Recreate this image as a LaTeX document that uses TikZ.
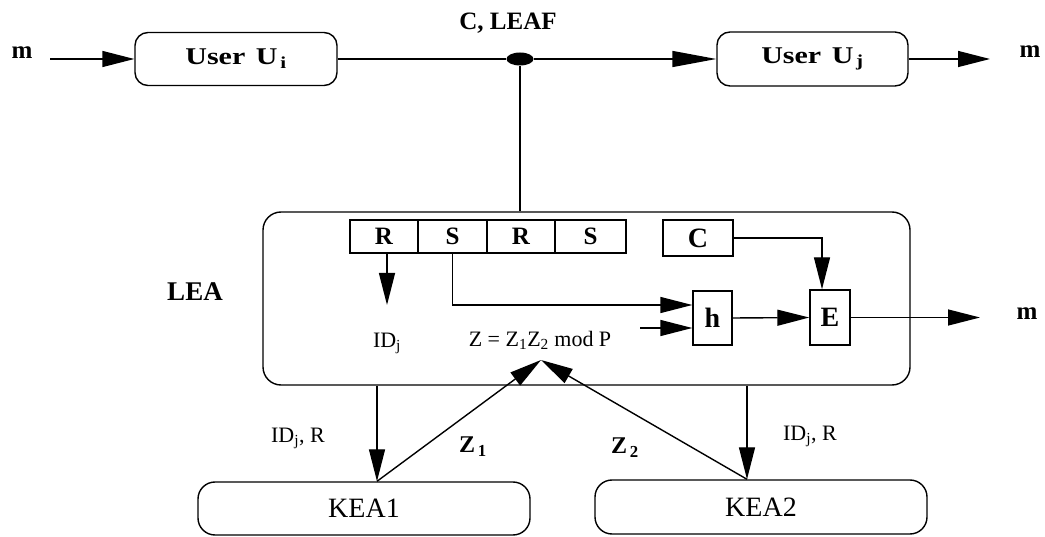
\documentclass[tikz,border=0pt]{standalone}
\usepackage{fontspec}
\setmainfont{Liberation Serif}
\newfontfamily\widefont{Liberation Serif}[FakeStretch=1.25]
\usetikzlibrary{arrows.meta,shapes.geometric}
\begin{document}
\begin{tikzpicture}[x=1pt,y=-1pt,line width=1.4pt,
  arr/.style={-{Triangle[length=32pt,width=16pt]}},
  rbox/.style={draw,rounded corners=13pt,inner sep=0pt},
  sq/.style={draw,inner sep=0pt},
  user/.style={font=\widefont\fontsize{24}{26}\selectfont\bfseries},
  bl/.style={font=\fontsize{25}{27}\selectfont\bfseries},
  blb/.style={font=\fontsize{28}{30}\selectfont\bfseries},
  reg/.style={font=\fontsize{22}{24}\selectfont},
  kea/.style={font=\fontsize{28}{30}\selectfont},
  ]
\useasboundingbox (0,0) rectangle (1045,537);
% top row
\node[bl] (min) at (22,53) {m};
\node[rbox,user,minimum width=202pt,minimum height=53pt] (ui) at (236,59) {User\hspace{3pt} U\textsubscript{\,i}};
\node[fill,ellipse,minimum width=27pt,minimum height=13pt,inner sep=0pt] (dot) at (520,59) {};
\node[bl] (cleaf) at (508,23) {C, LEAF};
\node[rbox,user,minimum width=191pt,minimum height=54pt] (uj) at (812.5,59) {User\hspace{3pt} U\textsubscript{\,j}};
\node[bl] (mout1) at (1030,52) {m};
\coordinate (s1) at (50,59);
\coordinate (t1) at (990,59);
\draw[arr] (s1) -- (ui.west);
\draw (ui.east) -- (dot.west);
\draw[-{Triangle[length=44pt,width=16pt]}] (dot.east) -- (uj.west);
\draw[arr] (uj.east) -- (t1);
% LEA
\node[draw,rounded corners=18pt,minimum width=647pt,minimum height=173pt,inner sep=0pt] (lea) at (586.5,298.5) {};
\node[bl,font=\fontsize{27}{29}\selectfont\bfseries] (lealab) at (195,292) {LEA};
\draw (dot.south) -- (dot.south |- lea.north);
\node[sq,bl,minimum width=68pt,minimum height=33pt] (c1) at (384,236.5) {R};
\node[sq,bl,minimum width=69pt,minimum height=33pt] (c2) at (452.5,236.5) {S};
\node[sq,bl,minimum width=68pt,minimum height=33pt] (c3) at (521,236.5) {R};
\node[sq,bl,minimum width=71pt,minimum height=33pt] (c4) at (590.5,236.5) {S};
\node[sq,blb,minimum width=70pt,minimum height=36pt] (cb) at (698,238) {C};
\node[sq,blb,minimum width=39pt,minimum height=54pt] (h) at (712.5,318) {h};
\node[sq,blb,minimum width=40pt,minimum height=55pt] (e) at (830,317.5) {E};
\node[reg] (idj) at (387,343) {ID\textsubscript{j}};
\node[reg] (zeq) at (540,340) {Z = Z\textsubscript{1}Z\textsubscript{2} mod P};
\node[bl] (mout2) at (1027,314) {m};
\coordinate (a1) at (387,305);
\coordinate (zs) at (640,328);
\coordinate (t2) at (980,317.5);
\coordinate (apex) at (541,360);
\draw[arr] ([xshift=3pt]c1.south) -- (a1);
\draw[arr] (c2.south) |- ([yshift=13pt]h.west);
\draw[arr] (zs) -- (zs -| h.west);
\draw[arr] (cb.east) -| ([xshift=-8pt]e.north);
\draw[arr] (h.east) -- (e.west);
\draw[arr] (e.east) -- (t2);
% KEAs
\node[rbox,kea,rounded corners=17pt,minimum width=332pt,minimum height=53pt] (kea1) at (364,508.5) {KEA1};
\node[rbox,kea,rounded corners=17pt,minimum width=332pt,minimum height=54pt] (kea2) at (761,507) {KEA2};
\coordinate (k1) at ([xshift=13pt]kea1.north);
\coordinate (k2) at ([xshift=-14pt]kea2.north);
\draw[arr] (lea.south -| k1) -- (k1);
\draw[arr] (lea.south -| k2) -- (k2);
\draw[arr] (k1) -- (apex);
\draw[arr] (k2) -- (apex);
\node[reg] (lab1) at (298,438) {ID\textsubscript{j}, R};
\node[reg] (lab2) at (810,436) {ID\textsubscript{j}, R};
\node[bl,font=\fontsize{24}{26}\selectfont\bfseries] (z1) at (473,447) {Z\textsubscript{\,1}};
\node[bl,font=\fontsize{24}{26}\selectfont\bfseries] (z2) at (625,448) {Z\textsubscript{\,2}};
\end{tikzpicture}
\end{document}
